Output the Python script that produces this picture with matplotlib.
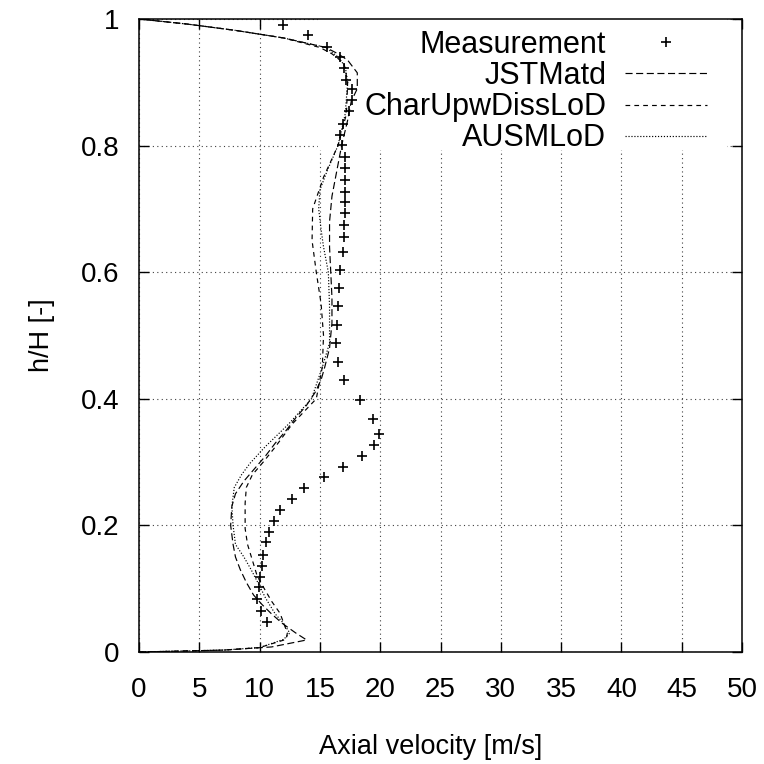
import matplotlib
matplotlib.use("Agg")
import matplotlib.pyplot as plt
from matplotlib.patches import Rectangle

meas_u = [11.9, 14.0, 15.6, 16.7, 17.0, 17.2, 17.7, 17.7, 17.4, 16.9, 16.7, 16.8,
          17.1, 17.1, 17.1, 17.1, 17.1, 17.1, 17.0, 17.0, 16.9, 16.7, 16.6, 16.5,
          16.4, 16.3, 16.5, 17.0, 18.3, 19.4, 19.9, 19.5, 18.5, 16.9, 15.3, 13.7,
          12.7, 11.7, 11.2, 10.8, 10.5, 10.3, 10.2, 10.0, 9.95, 9.8, 10.1, 10.6]
meas_h = [0.990, 0.975, 0.956, 0.940, 0.922, 0.904, 0.889, 0.872, 0.854, 0.834,
          0.817, 0.801, 0.782, 0.764, 0.746, 0.727, 0.711, 0.693, 0.675, 0.656,
          0.632, 0.603, 0.575, 0.546, 0.517, 0.488, 0.458, 0.429, 0.398, 0.368,
          0.345, 0.327, 0.310, 0.293, 0.277, 0.259, 0.241, 0.224, 0.207, 0.190,
          0.173, 0.154, 0.136, 0.119, 0.102, 0.083, 0.065, 0.047]

# JSTMatd
jst_u = [0.0, 7.0, 11.0, 13.9, 13.0, 11.9, 11.0, 10.2, 9.5, 8.9, 8.4, 8.0, 7.8,
         7.6, 7.7, 8.0, 8.7, 9.6, 10.5, 11.3, 12.2, 13.0, 13.9, 14.6, 15.1, 15.4,
         15.8, 16.0, 16.0, 15.9, 15.8, 15.8, 16.0, 16.4, 16.8, 17.3, 17.6, 18.1,
         18.1, 17.3, 16.5, 15.5, 12.0, 8.0, 4.0, 0.0]
jst_h = [0.0, 0.003, 0.008, 0.019, 0.03, 0.045, 0.06, 0.075, 0.09, 0.11, 0.13,
         0.15, 0.17, 0.20, 0.23, 0.25, 0.27, 0.29, 0.31, 0.33, 0.35, 0.37, 0.39,
         0.41, 0.43, 0.45, 0.48, 0.52, 0.56, 0.60, 0.64, 0.68, 0.72, 0.76, 0.80,
         0.84, 0.87, 0.89, 0.915, 0.935, 0.945, 0.955, 0.97, 0.982, 0.992, 1.0]

# CharUpwDissLoD
char_u = [0.0, 7.0, 10.0, 12.2, 12.3, 11.7, 11.0, 10.3, 9.8, 9.4, 9.0, 8.8, 8.8,
          8.9, 9.4, 10.3, 11.3, 12.7, 14.7, 15.0, 15.2, 15.3, 15.1, 14.7, 14.35,
          14.4, 15.3, 16.5, 17.2, 17.3, 17.0, 16.0, 15.0, 12.0, 8.0, 4.0, 0.0]
char_h = [0.0, 0.003, 0.007, 0.02, 0.03, 0.061, 0.08, 0.103, 0.12, 0.145, 0.17,
          0.195, 0.235, 0.26, 0.28, 0.30, 0.324, 0.36, 0.40, 0.43, 0.45, 0.50,
          0.55, 0.60, 0.65, 0.70, 0.75, 0.80, 0.85, 0.90, 0.93, 0.945, 0.955,
          0.97, 0.982, 0.992, 1.0]

# AUSMLoD
ausm_u = [0.0, 7.0, 10.0, 12.0, 12.5, 12.0, 11.3, 10.5, 9.9, 9.3, 8.7, 8.0, 7.8,
          7.7, 7.9, 8.5, 9.2, 10.45, 12.4, 14.3, 15.2, 15.8, 15.8, 15.7, 15.3,
          15.1, 14.9, 15.0, 15.6, 16.5, 17.1, 17.3, 17.1, 16.5, 15.5, 12.0, 8.0,
          4.0, 0.0]
ausm_h = [0.0, 0.003, 0.007, 0.02, 0.03, 0.045, 0.06, 0.085, 0.108, 0.13, 0.15,
          0.17, 0.2, 0.23, 0.26, 0.28, 0.298, 0.324, 0.36, 0.40, 0.45, 0.488,
          0.546, 0.60, 0.64, 0.667, 0.70, 0.73, 0.76, 0.80, 0.85, 0.90, 0.925,
          0.94, 0.955, 0.97, 0.982, 0.992, 1.0]

xticks = [0, 5, 10, 15, 20, 25, 30, 35, 40, 45, 50]
yticks = [0, 0.2, 0.4, 0.6, 0.8, 1]
ytick_labels = ["0", "0.2", "0.4", "0.6", "0.8", "1"]

plt.rcParams["font.family"] = ["Liberation Sans", "DejaVu Sans"]
ticksize = 20
labelsize = 19.5
keysize = 22

fig = plt.figure(figsize=(7.64, 7.64), dpi=100)
ax = fig.add_axes([139 / 764, 1 - 652 / 764, 603 / 764, 633 / 764])

lw = 0.85
ax.plot(meas_u, meas_h, linestyle="none", marker="+", markersize=7.8,
        markeredgewidth=1.2, color="black", label="Measurement", zorder=3)
ax.plot(jst_u, jst_h, linestyle=(0, (6, 3)), linewidth=lw, color="black",
        label="JSTMatd", zorder=3)
ax.plot(char_u, char_h, linestyle=(0, (4, 3.5)), linewidth=lw, color="black",
        label="CharUpwDissLoD", zorder=3)
ax.plot(ausm_u, ausm_h, linestyle=(0, (1, 1.5)), linewidth=lw, color="black",
        label="AUSMLoD", zorder=3)

# opaque key area hides the grid but not the curves
ax.add_patch(Rectangle((0.297, 0.793), 0.678, 0.207, transform=ax.transAxes,
                       facecolor="white", edgecolor="none", zorder=1))

ax.set_xlim(0, 50)
ax.set_ylim(0, 1)
ax.set_xticks(xticks)
ax.set_yticks(yticks)
ax.set_yticklabels(ytick_labels)
ax.set_axisbelow(True)
ax.grid(True, color="0.25", linestyle=(0, (1, 3)), linewidth=0.8)
ax.tick_params(direction="in", length=7, width=1.0, top=True, right=True,
               labelsize=ticksize)
ax.tick_params(axis="x", pad=18)
ax.tick_params(axis="y", pad=14)
for s in ax.spines.values():
    s.set_linewidth(1.1)

ax.set_xlabel("Axial velocity [m/s]", fontsize=labelsize, labelpad=22)
ax.xaxis.label.set_x(0.483)
ax.set_ylabel("h/H [-]", fontsize=labelsize, labelpad=19)

leg = ax.legend(loc="upper right", bbox_to_anchor=(0.942, 0.983),
                markerfirst=False, frameon=False, fontsize=keysize,
                handlelength=2.7, handletextpad=0.6, labelspacing=0.04,
                borderaxespad=0, borderpad=0)

fig.savefig("out.png", dpi=100)
